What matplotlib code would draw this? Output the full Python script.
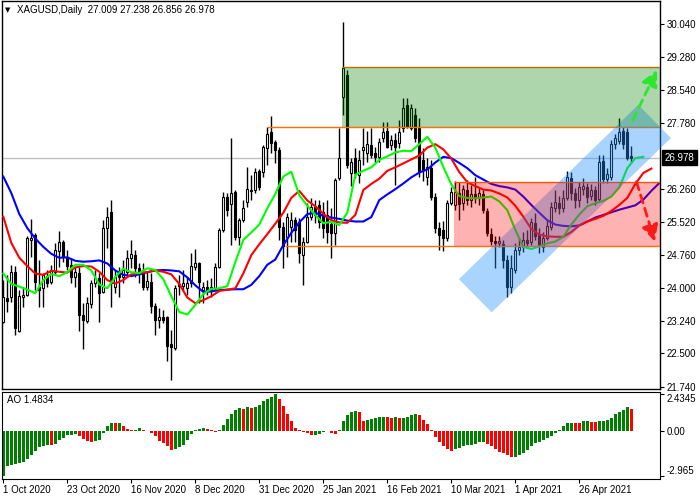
import numpy as np
import matplotlib
matplotlib.use("Agg")
import matplotlib.pyplot as plt
from matplotlib.patches import Rectangle, Polygon
from matplotlib.transforms import blended_transform_factory

plt.rcParams["font.family"] = ["Liberation Sans", "DejaVu Sans"]


# -------------------------------------------------
# Daily candles XAGUSD (1 Oct 2020 .. mid May 2021)
# -------------------------------------------------

OPEN = [
    23.22, 23.77, 23.79, 24.37, 23.01, 23.79, 23.84, 25.10, 25.21, 24.02,
    23.99, 24.27, 24.14, 24.37, 24.85, 25.05, 24.69, 24.53, 24.25, 24.34,
    23.38, 23.24, 23.63, 24.11, 24.23, 23.91, 25.37, 25.74, 24.02, 24.37,
    24.25, 24.37, 24.69, 24.75, 24.46, 24.37, 24.02, 24.14, 23.59, 23.27,
    23.34, 23.34, 22.72, 22.63, 24.09, 24.05, 23.99, 24.11, 24.48, 24.57,
    23.95, 24.02, 23.95, 23.99, 24.48, 25.33, 26.08, 25.92, 26.20, 25.17,
    25.55, 25.97, 26.22, 26.24, 26.68, 26.65, 27.20, 27.57, 27.34, 27.16,
    25.39, 25.17, 25.39, 25.55, 25.51, 24.75, 25.05, 25.62, 25.85, 25.90,
    25.74, 25.67, 25.46, 25.26, 26.52, 28.37, 28.87, 26.63, 26.97, 26.58,
    27.16, 27.09, 27.27, 27.09, 27.00, 27.43, 27.59, 27.27, 27.38, 27.32,
    27.66, 28.19, 27.66, 27.96, 27.66, 26.93, 26.54, 26.74, 26.08, 25.37,
    25.33, 25.14, 25.94, 25.90, 26.17, 25.94, 26.24, 26.01, 26.15, 26.08,
    26.15, 25.76, 25.23, 25.07, 25.03, 25.00, 24.64, 24.02, 24.41, 24.87,
    24.94, 25.10, 25.05, 25.48, 25.21, 24.94, 25.14, 25.39, 25.83, 25.94,
    25.83, 26.06, 26.52, 26.17, 26.01, 26.26, 26.31, 26.10, 26.24, 26.04,
    26.91, 26.49, 26.54, 27.29, 27.36, 27.59, 27.57, 27.009,
]

HIGH = [
    24.18, 24.30, 24.53, 24.50, 23.95, 24.02, 25.19, 25.58, 25.26, 24.64,
    24.34, 24.41, 24.53, 25.03, 25.30, 25.10, 24.87, 24.69, 24.48, 24.48,
    23.66, 23.79, 24.18, 24.41, 24.34, 25.55, 25.85, 26.01, 24.41, 24.48,
    24.64, 24.87, 25.10, 24.87, 24.57, 24.57, 24.37, 24.34, 23.66, 23.54,
    23.50, 23.36, 23.04, 24.07, 24.30, 24.41, 24.25, 24.80, 24.89, 24.59,
    24.14, 24.18, 24.23, 24.57, 25.37, 26.20, 26.17, 27.43, 26.24, 25.60,
    26.01, 26.77, 26.58, 26.74, 26.72, 27.27, 27.68, 27.93, 27.38, 27.22,
    25.51, 25.71, 25.74, 25.62, 25.60, 25.17, 25.94, 26.06, 26.01, 26.01,
    25.97, 26.01, 25.83, 26.52, 27.66, 30.09, 28.99, 26.97, 27.20, 27.16,
    27.66, 27.59, 27.66, 27.22, 27.43, 27.80, 27.80, 27.50, 27.55, 27.84,
    28.35, 28.35, 28.21, 28.12, 27.89, 27.20, 26.97, 26.93, 26.17, 25.51,
    25.53, 26.01, 26.31, 26.45, 26.42, 26.35, 26.47, 26.35, 26.54, 26.29,
    26.24, 25.83, 25.37, 25.19, 25.19, 25.10, 24.75, 24.75, 25.03, 25.14,
    25.28, 25.33, 25.60, 25.71, 25.37, 25.28, 25.55, 25.97, 26.24, 26.10,
    26.24, 26.68, 26.65, 26.29, 26.42, 26.52, 26.40, 26.38, 26.33, 27.04,
    27.04, 26.74, 27.39, 27.52, 27.89, 27.68, 27.66, 27.238,
]

LOW = [
    23.20, 23.45, 23.68, 22.92, 22.99, 23.56, 23.82, 24.71, 23.95, 23.56,
    23.56, 24.02, 24.09, 24.32, 24.48, 24.60, 24.41, 24.11, 24.02, 23.01,
    22.60, 23.20, 23.54, 24.02, 23.22, 23.88, 24.91, 23.56, 23.88, 23.79,
    24.11, 24.25, 24.46, 24.25, 24.11, 23.95, 23.95, 23.43, 22.92, 23.08,
    23.20, 22.33, 21.89, 22.58, 23.84, 23.95, 23.84, 24.02, 24.41, 23.66,
    23.66, 23.84, 23.79, 23.95, 24.46, 25.28, 25.65, 24.98, 25.10, 24.98,
    25.51, 25.85, 26.01, 26.17, 26.24, 26.54, 26.81, 27.09, 26.87, 25.10,
    24.46, 24.71, 25.05, 25.05, 24.57, 24.07, 25.03, 25.55, 25.48, 25.37,
    25.14, 25.03, 24.69, 24.98, 26.47, 27.96, 26.74, 26.33, 26.52, 26.40,
    26.81, 26.88, 26.97, 26.86, 26.88, 27.34, 27.20, 27.16, 26.35, 27.20,
    27.57, 27.66, 27.61, 27.34, 26.54, 26.45, 26.35, 26.01, 25.26, 24.87,
    24.85, 25.07, 25.90, 25.78, 25.55, 25.78, 25.90, 25.85, 25.94, 25.90,
    25.71, 25.19, 24.98, 24.46, 24.94, 24.46, 23.79, 23.88, 24.34, 24.75,
    24.82, 24.91, 24.98, 25.10, 24.80, 24.82, 25.10, 25.33, 25.74, 25.69,
    25.74, 26.01, 26.01, 25.83, 25.85, 26.13, 25.94, 26.01, 25.90, 25.97,
    26.40, 26.40, 26.47, 27.18, 27.29, 27.18, 26.92, 26.856,
]

CLOSE = [
    23.79, 23.70, 24.37, 23.08, 23.82, 23.84, 25.14, 25.14, 24.14, 23.95,
    24.30, 24.11, 24.41, 24.87, 25.05, 24.71, 24.50, 24.25, 24.37, 23.38,
    23.27, 23.66, 24.11, 24.23, 23.88, 25.37, 25.62, 24.11, 24.25, 24.25,
    24.41, 24.69, 24.78, 24.46, 24.34, 24.02, 24.16, 23.59, 23.27, 23.34,
    23.27, 22.67, 22.65, 23.99, 24.05, 24.11, 24.11, 24.50, 24.57, 24.14,
    24.02, 23.95, 24.02, 24.48, 25.33, 26.08, 25.78, 26.17, 25.17, 25.55,
    25.83, 26.26, 26.24, 26.65, 26.31, 27.23, 27.53, 27.32, 27.16, 25.39,
    24.96, 25.62, 25.55, 25.33, 24.80, 25.05, 25.62, 25.85, 25.67, 25.51,
    25.37, 25.28, 25.26, 26.47, 26.97, 29.03, 26.81, 26.88, 26.63, 26.93,
    27.23, 27.29, 27.04, 27.00, 27.34, 27.57, 27.23, 27.38, 27.23, 27.57,
    28.12, 27.68, 28.12, 27.43, 26.65, 26.70, 26.77, 26.08, 25.37, 25.21,
    25.14, 25.94, 26.20, 26.20, 25.92, 26.26, 26.01, 26.15, 26.06, 26.17,
    25.78, 25.26, 25.07, 25.03, 25.07, 24.64, 24.02, 24.46, 24.87, 24.94,
    25.10, 25.03, 25.51, 25.19, 24.98, 25.14, 25.42, 25.85, 25.97, 25.83,
    26.06, 26.54, 26.17, 26.01, 26.31, 26.33, 26.08, 26.24, 26.01, 26.88,
    26.49, 26.61, 27.29, 27.43, 27.57, 27.29, 26.97, 26.978,
]

# Alligator lines (read every 2 bars, already shifted forward)
MA_STEP = 2

JAW = [
    26.55, 26.17, 25.69, 25.37, 25.13, 24.94, 24.78, 24.69, 24.70, 24.62,
    24.60, 24.61, 24.63, 24.56, 24.40, 24.30, 24.27, 24.31, 24.36, 24.40,
    24.41, 24.40, 24.38, 24.24, 24.06, 23.91, 23.92, 23.95, 23.96, 23.97,
    23.97, 24.07, 24.27, 24.53, 24.65, 24.98, 25.26, 25.50, 25.69, 25.72,
    25.65, 25.61, 25.58, 25.54, 25.52, 25.52, 25.62, 26.01, 26.14, 26.26,
    26.39, 26.53, 26.64, 26.71, 26.87, 27.00, 26.97, 26.86, 26.74, 26.58,
    26.48, 26.38, 26.33, 26.30, 26.25, 26.09, 25.90, 25.72, 25.55, 25.45,
    25.42, 25.41, 25.43, 25.52, 25.61, 25.67, 25.73, 25.79, 25.84, 25.89,
    26.02, 26.22, 26.40,
]

TEETH = [
    25.63, 25.03, 24.69, 24.50, 24.33, 24.30, 24.39, 24.37, 24.35, 24.47,
    24.50, 24.49, 24.37, 24.18, 24.10, 24.18, 24.31, 24.34, 24.36, 24.40,
    24.37, 24.31, 24.09, 23.78, 23.65, 23.72, 23.81, 23.93, 23.96, 23.99,
    24.33, 24.75, 25.00, 25.23, 25.47, 25.72, 26.06, 26.22, 26.00, 25.87,
    25.70, 25.55, 25.50, 25.49, 25.67, 26.24, 26.38, 26.50, 26.68, 26.76,
    26.85, 26.94, 27.03, 27.21, 27.29, 27.17, 26.96, 26.65, 26.42, 26.33,
    26.25, 26.23, 26.16, 26.07, 25.88, 25.63, 25.35, 25.22, 25.18, 25.17,
    25.17, 25.28, 25.43, 25.52, 25.58, 25.65, 25.76, 25.90, 26.06, 26.38,
    26.63, 26.73,
]

LIPS = [
    24.33, 24.09, 24.03, 23.96, 23.88, 24.18, 24.32, 24.27, 24.36, 24.53,
    24.53, 24.40, 24.08, 23.99, 24.25, 24.44, 24.36, 24.34, 24.45, 24.41,
    24.20, 23.81, 23.45, 23.39, 23.61, 23.86, 23.98, 23.99, 24.04, 24.59,
    25.10, 25.27, 25.45, 25.82, 26.15, 26.55, 26.66, 26.12, 25.88, 25.67,
    25.48, 25.51, 25.44, 25.72, 26.59, 26.68, 26.76, 26.93, 27.01, 27.10,
    27.14, 27.13, 27.29, 27.46, 27.21, 26.77, 26.37, 26.10, 26.06, 26.05,
    26.07, 26.09, 25.98, 25.78, 25.33, 24.94, 24.89, 24.95, 25.02, 25.06,
    25.17, 25.45, 25.68, 25.87, 25.94, 25.99, 26.09, 26.30, 26.74, 26.97,
    27.00,
]

# Awesome Oscillator
AO = [
    -2.965, -2.32, -2.26, -2.19, -2.14, -2.03, -1.81, -1.59, -1.30, -1.04,
    -0.98, -0.90, -0.93, -0.82, -0.60, -0.42, -0.27, -0.22, -0.21, -0.31,
    -0.51, -0.66, -0.73, -0.66, -0.60, -0.11, 0.33, 0.53, 0.52, 0.54,
    0.33, 0.13, 0.06, 0.11, 0.18, 0.11, 0.04, -0.11, -0.33, -0.65,
    -0.81, -0.99, -1.26, -1.15, -1.04, -0.93, -0.60, -0.20, 0.11, 0.16,
    0.18, 0.13, 0.11, -0.06, 0.11, 0.44, 0.80, 1.17, 1.43, 1.51,
    1.49, 1.57, 1.54, 1.61, 1.75, 1.99, 2.12, 2.28, 2.4345, 2.12,
    1.70, 1.17, 0.66, 0.24, 0.06, -0.06, -0.15, -0.24, -0.22, -0.21,
    -0.03, -0.02, -0.15, -0.16, 0.06, 0.66, 1.06, 1.28, 1.33, 1.26,
    0.66, 0.77, 0.84, 0.89, 0.92, 0.93, 0.91, 0.89, 0.93, 0.89,
    0.90, 0.96, 1.06, 1.13, 1.04, 0.77, 0.47, 0.11, -0.38, -0.71,
    -0.99, -1.15, -1.30, -1.19, -1.10, -0.99, -0.93, -0.89, -0.86, -0.72,
    -0.70, -0.86, -0.99, -1.19, -1.37, -1.43, -1.59, -1.71, -1.70, -1.61,
    -1.42, -1.26, -0.99, -0.77, -0.71, -0.56, -0.42, -0.29, -0.11, 0.11,
    0.35, 0.51, 0.57, 0.56, 0.55, 0.66, 0.67, 0.60, 0.59, 0.66,
    0.67, 0.73, 0.86, 1.13, 1.30, 1.43, 1.57, 1.4834,
]

DATE_TICKS = [0, 16, 32, 48, 64, 80, 96, 112, 128, 144]
DATE_LABELS = ["1 Oct 2020", "23 Oct 2020", "16 Nov 2020", "8 Dec 2020",
               "31 Dec 2020", "25 Jan 2021", "16 Feb 2021", "10 Mar 2021",
               "1 Apr 2021", "26 Apr 2021"]
PRICE_TICKS = [30.04, 29.28, 28.54, 27.78, 26.26, 25.52, 24.76, 24.00,
               23.24, 22.50, 21.74]
LAST_PRICE = 26.978

# drawn analysis objects
RESIST = 27.68
TARGET_UP = 29.05
SUPPORT = 24.95
RANGE_TOP = 26.43
CHANNEL = [(113.9, 24.20), (122.1, 23.44), (166.9, 27.43), (158.75, 28.19)]


# -------------------------------------------------
# Figure
# -------------------------------------------------

fig = plt.figure(figsize=(7, 5), dpi=100)
ax = fig.add_axes([2 / 700, 1 - 389 / 500, 658 / 700, 388 / 500])
ax_ao = fig.add_axes([2 / 700, 1 - 479 / 500, 658 / 700, 87.5 / 500])

x = np.arange(len(CLOSE))
o = np.array(OPEN)
h = np.array(HIGH)
l = np.array(LOW)
c = np.array(CLOSE)
up = c >= o

ax.axhline(LAST_PRICE, color="#c0c0c0", lw=1, zorder=1)

ax.vlines(x, l, h, color="black", lw=1, zorder=2)
ax.bar(x, np.abs(c - o), bottom=np.minimum(o, c), width=0.55,
       color=np.where(up, "white", "black"), edgecolor="black",
       linewidth=0.8, zorder=3)

ax.plot(np.arange(len(JAW)) * MA_STEP, JAW, color="#0000ff", lw=1.5, zorder=4)
ax.plot(np.arange(len(TEETH)) * MA_STEP, TEETH, color="#ff0000", lw=1.5, zorder=4)
ax.plot(np.arange(len(LIPS)) * MA_STEP, LIPS, color="#00ff00", lw=1.5, zorder=4)

# levels
orange = "#ff7000"
ax.hlines(RESIST, 65.85, 170, color=orange, lw=1, zorder=4.5)
ax.hlines(TARGET_UP, 84.7, 170, color=orange, lw=1, zorder=4.5)
ax.hlines(SUPPORT, 70.4, 170, color=orange, lw=1, zorder=4.5)
ax.hlines(RANGE_TOP, 112.7, 170, color=orange, lw=1, zorder=4.5)

ax.add_patch(Polygon(CHANNEL, closed=True, facecolor=(30 / 255, 144 / 255, 1.0),
                     alpha=0.38, lw=0, zorder=5, clip_on=False))
ax.add_patch(Rectangle((84.7, RESIST), 90, TARGET_UP - RESIST,
                       facecolor=(0, 0.5, 0), alpha=0.32, lw=0, zorder=5))
ax.add_patch(Rectangle((112.7, SUPPORT), 60, RANGE_TOP - SUPPORT,
                       facecolor=(1, 0, 0), alpha=0.3, lw=0, zorder=5))

# scenario arrows
for (x0, y0), (x1, y1), col in [((157.4, 27.84), (163.4, 28.99), "#2ee62e"),
                                ((158.3, 26.43), (162.9, 25.06), "#ff1a1a")]:
    ax.annotate("", xy=(x1, y1), xytext=(x0, y0),
                arrowprops=dict(arrowstyle="-|>,head_length=0.7,head_width=0.35",
                                color=col, lw=2, linestyle=(0, (3, 2)),
                                mutation_scale=14, shrinkA=0, shrinkB=0),
                zorder=6)

ax.set_xlim(-0.325, 164.175)
ax.set_ylim(21.687, 30.566)
ax.set_xticks([])
ax.yaxis.tick_right()
ax.set_yticks(PRICE_TICKS)
ax.set_yticklabels([f"{v:.3f}" for v in PRICE_TICKS])
ax.tick_params(axis="y", length=3, width=0.8, labelsize=7, pad=2)
for s in ax.spines.values():
    s.set_linewidth(1)

trans = blended_transform_factory(ax.transAxes, ax.transData)
ax.text(1.007, LAST_PRICE, "26.978", transform=trans, color="white",
        fontsize=7, ha="left", va="center", zorder=10,
        bbox=dict(boxstyle="square,pad=0.25", fc="black", ec="black"))

fig.text(5 / 700, 1 - 10 / 500, "\u25bc", fontsize=5, va="center",
         family="DejaVu Sans")
fig.text(17 / 700, 1 - 10 / 500, "XAGUSD,Daily  27.009 27.238 26.856 26.978",
         fontsize=7, va="center")


# -------------------------------------------------
# AO panel
# -------------------------------------------------

ao = np.array(AO)
ao_up = np.concatenate([[True], ao[1:] > ao[:-1]])
ax_ao.bar(x, ao, width=0.7, color=np.where(ao_up, "#008000", "#ff0000"), lw=0)

ax_ao.set_xlim(-0.325, 164.175)
ax_ao.set_ylim(-3.167, 2.63)
ax_ao.yaxis.tick_right()
ax_ao.set_yticks([2.4345, 0.0, -2.965])
ax_ao.set_yticklabels(["2.4345", "0.00", "-2.965"])
labs = ax_ao.get_yticklabels()
labs[0].set_va("top")
labs[2].set_va("bottom")
ax_ao.tick_params(axis="y", length=3, width=0.8, labelsize=7, pad=2)
ax_ao.set_xticks(DATE_TICKS)
ax_ao.set_xticklabels(DATE_LABELS, ha="left")
ax_ao.tick_params(axis="x", length=3, width=0.8, labelsize=7, pad=1)
ax_ao.text(0.008, 0.9, "AO 1.4834", transform=ax_ao.transAxes,
           fontsize=7, va="center")

fig.savefig("out.png", dpi=100)
